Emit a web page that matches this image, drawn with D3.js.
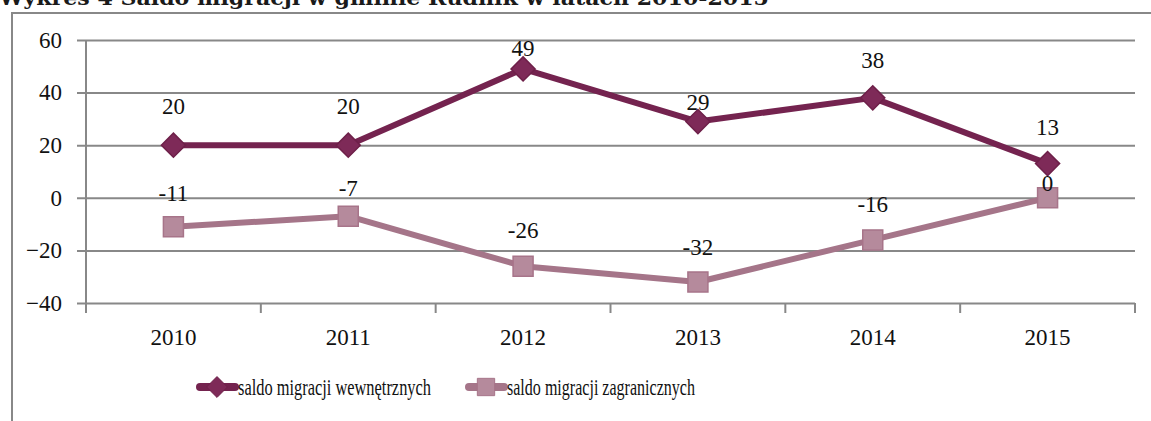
<!DOCTYPE html>
<html>
<head>
<meta charset="utf-8">
<script src="https://cdn.jsdelivr.net/npm/d3@7"></script>
<style>
  body { margin: 0; background: #fff; }
  svg { display: block; }
</style>
</head>
<body>
<svg id="chart" width="1151" height="421"></svg>
<script>
var w = 1151;
var h = 421;

// data
var years = ["2010", "2011", "2012", "2013", "2014", "2015"];
var wewnetrzne = [20, 20, 49, 29, 38, 13];
var zagraniczne = [-11, -7, -26, -32, -16, 0];
var yTicks = [-40, -20, 0, 20, 40, 60];
var seriesNames = ["saldo migracji wewnętrznych", "saldo migracji zagranicznych"];
var title = "Wykres 4 Saldo migracji w gminie Rudnik w latach 2010-2015";

// label lift above each point (hand-placed in the original)
var lift1 = [39, 39, 21, 20, 38, 37];
var lift2 = [34, 28, 36, 35, 36, 15];

var svg = d3.select("#chart");
var font = "'Liberation Serif', 'Times New Roman', serif";
var gridColor = "#888888";
var fs = 23;

var plotLeft = 86, plotRight = 1135, plotTop = 40, plotBottom = 303;

var x = d3.scaleBand().domain(years).range([plotLeft, plotRight]);
var y = d3.scaleLinear().domain([-40, 60]).range([plotBottom, plotTop]);

// outer frame (only top and left show)
svg.append("path")
  .attr("d", "M12," + h + "V13H" + w)
  .attr("fill", "none")
  .attr("stroke", gridColor)
  .attr("stroke-width", 2);

// title, cut off at top
svg.append("text")
  .text(title)
  .attr("x", -1)
  .attr("y", 5)
  .attr("font-family", "'DejaVu Serif', serif")
  .attr("font-weight", "bold")
  .attr("font-size", 21)
  .attr("textLength", 770)
  .attr("lengthAdjust", "spacingAndGlyphs")
  .attr("fill", "#1a1a1a");

// y grid + axis
var yAxis = d3.axisLeft(y)
  .tickValues(yTicks)
  .tickSize(-(plotRight - plotLeft))
  .tickFormat(d3.format("d"));

var gy = svg.append("g")
  .attr("transform", "translate(" + plotLeft + ",0)")
  .call(yAxis);
gy.select(".domain").remove();
gy.selectAll(".tick line")
  .attr("x1", -9)
  .attr("stroke", gridColor)
  .attr("stroke-width", 2);
gy.selectAll(".tick text")
  .attr("x", -24)
  .attr("font-family", font)
  .attr("font-size", fs)
  .attr("fill", "#111");

// y axis line
svg.append("line")
  .attr("x1", plotLeft).attr("x2", plotLeft)
  .attr("y1", plotTop).attr("y2", plotBottom)
  .attr("stroke", gridColor)
  .attr("stroke-width", 2);

// x axis
var xAxis = d3.axisBottom(x).tickSize(0).tickPadding(26);
var gx = svg.append("g")
  .attr("transform", "translate(0," + plotBottom + ")")
  .call(xAxis);
gx.select(".domain").remove();
gx.selectAll(".tick text")
  .attr("font-family", font)
  .attr("font-size", fs)
  .attr("fill", "#111");

var bounds = d3.range(years.length + 1).map(function(i) { return plotLeft + i * x.step(); });
svg.append("g").selectAll("line")
  .data(bounds)
  .enter()
  .append("line")
  .attr("x1", function(d) { return d; })
  .attr("x2", function(d) { return d; })
  .attr("y1", plotBottom)
  .attr("y2", plotBottom + 10)
  .attr("stroke", gridColor)
  .attr("stroke-width", 2);

var cx = function(d, i) { return x(years[i]) + x.bandwidth() / 2; };

var series = [
  { name: seriesNames[0], values: wewnetrzne, lift: lift1, line: "#74234F", fill: "#7E2A58", stroke: "#6E2049", shape: d3.symbolDiamond2, size: 370 },
  { name: seriesNames[1], values: zagraniczne, lift: lift2, line: "#A57589", fill: "#B58A9C", stroke: "#A77489", shape: d3.symbolSquare, size: 400 }
];

var line = d3.line()
  .x(cx)
  .y(function(d) { return y(d); });

series.forEach(function(s) {
  svg.append("path")
    .datum(s.values)
    .attr("d", line)
    .attr("fill", "none")
    .attr("stroke", s.line)
    .attr("stroke-width", 6)
    .attr("stroke-linejoin", "round");
});

series.forEach(function(s) {
  svg.append("g").selectAll("path")
    .data(s.values)
    .enter()
    .append("path")
    .attr("d", d3.symbol().type(s.shape).size(s.size))
    .attr("transform", function(d, i) { return "translate(" + cx(d, i) + "," + y(d) + ")"; })
    .attr("fill", s.fill)
    .attr("stroke", s.stroke)
    .attr("stroke-width", 1.5);

  svg.append("g").selectAll("text")
    .data(s.values)
    .enter()
    .append("text")
    .text(function(d) { return d; })
    .attr("x", cx)
    .attr("y", function(d, i) { return y(d) - s.lift[i]; })
    .attr("dy", "0.35em")
    .attr("text-anchor", "middle")
    .attr("font-family", font)
    .attr("font-size", fs)
    .attr("fill", "#111");
});

// legend
var legendY = 387;
var legendX = [198, 467];
var legendLen = [193, 188];
series.forEach(function(s, i) {
  var g = svg.append("g").attr("transform", "translate(" + legendX[i] + "," + legendY + ")");
  g.append("line")
    .attr("x1", 2).attr("x2", 37)
    .attr("stroke", s.line)
    .attr("stroke-width", 8)
    .attr("stroke-linecap", "round");
  g.append("path")
    .attr("d", d3.symbol().type(s.shape).size(s.size * 0.75))
    .attr("transform", "translate(19,0)")
    .attr("fill", s.fill)
    .attr("stroke", s.stroke)
    .attr("stroke-width", 1);
  g.append("text")
    .text(s.name)
    .attr("x", 40)
    .attr("dy", "0.35em")
    .attr("font-family", font)
    .attr("font-size", fs)
    .attr("textLength", legendLen[i])
    .attr("lengthAdjust", "spacingAndGlyphs")
    .attr("fill", "#111");
});
</script>
</body>
</html>
